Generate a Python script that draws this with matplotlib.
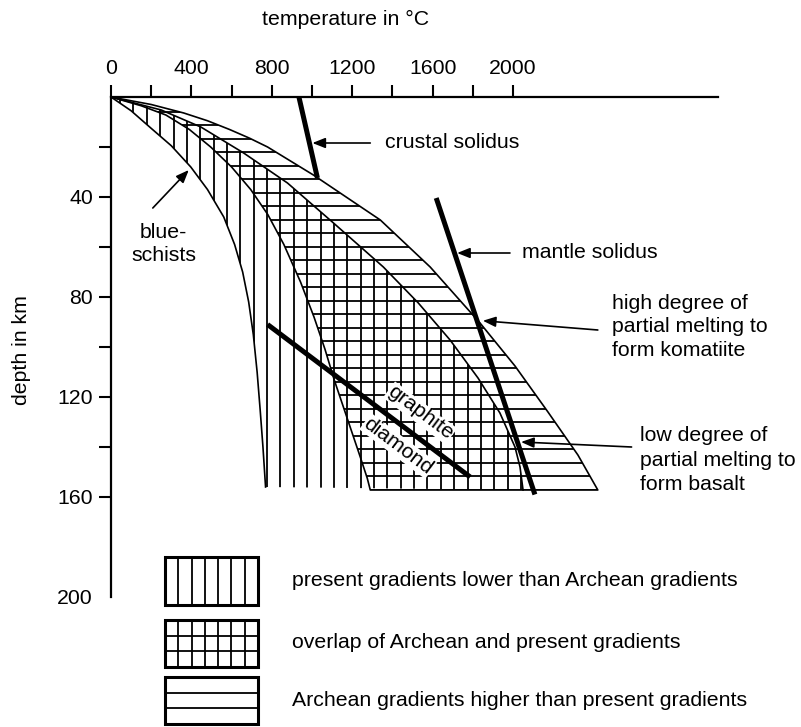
import matplotlib.pyplot as plt
import numpy as np
from matplotlib.patches import Polygon, Rectangle

plt.rcParams['font.family'] = ['Liberation Sans', 'DejaVu Sans']

# geotherms: temperature (°C) against depth (km)
present_cold_T = [0, 100, 198, 300, 397, 480, 561, 615, 655, 685, 708, 727, 742, 756, 769]
present_cold_d = [0, 5.5, 12.4, 19.5, 28, 37, 48, 59, 70, 82, 95, 110, 125, 140, 156]

present_hot_T = [0, 250, 447, 660, 878, 1107, 1355, 1529, 1687, 1826, 1935, 2010, 2035, 2050]
present_hot_d = [0, 5.2, 12, 22.4, 34.4, 50.4, 68, 82.4, 97.2, 112.4, 126.4, 140, 148, 157.2]

archean_cold_T = [0, 150, 273, 390, 496, 600, 695, 780, 860, 943, 1010, 1065, 1110,
                  1152, 1194, 1236, 1275, 1290]
archean_cold_d = [0, 3.5, 7.2, 13, 20, 28, 37, 47, 59, 74, 88, 101, 113,
                  123, 133, 143, 152.5, 157.2]

archean_hot_T = [0, 200, 362, 480, 590, 690, 779, 1007, 1340, 1588, 1836, 2010, 2174, 2323, 2422]
archean_hot_d = [0, 3.0, 6.4, 9.5, 13, 16.5, 20, 31.2, 49.2, 68, 90.4, 107.6, 126, 143.2, 157.2]

crustal_T = [935, 1027]
crustal_d = [0, 32.4]
mantle_T = [1618, 2109]
mantle_d = [40.4, 159]
gd_T = [779, 1787]
gd_d = [91, 152]

x_major = [0, 400, 800, 1200, 1600, 2000]
x_minor = [200, 600, 1000, 1400, 1800]
y_major = [40, 80, 120, 160, 200]
y_minor = [20, 60, 100, 140]

legend_labels = ['present gradients lower than Archean gradients',
                 'overlap of Archean and present gradients',
                 'Archean gradients higher than present gradients']

fs = 15.3

fig = plt.figure(figsize=(8.01, 7.27), dpi=100)
ax = fig.add_axes([111 / 801, 1 - 597 / 727, 607 / 801, 500 / 727])
ax.set_xlim(0, 3020)
ax.set_ylim(200, 0)

# regions
present_xy = np.column_stack([present_cold_T + present_hot_T[::-1],
                              present_cold_d + present_hot_d[::-1]])
archean_xy = np.column_stack([archean_cold_T + archean_hot_T[::-1],
                              archean_cold_d + archean_hot_d[::-1]])
present_patch = Polygon(present_xy, closed=True, fc='none', ec='none')
archean_patch = Polygon(archean_xy, closed=True, fc='none', ec='none')
ax.add_patch(present_patch)
ax.add_patch(archean_patch)

# hatching: vertical for present, horizontal for Archean
vl = ax.vlines(np.arange(45, 2100, 66.5), 0, 160, colors='k', lw=1.3, zorder=1)
vl.set_clip_path(present_patch)
hl = ax.hlines(np.arange(157.2, 0, -5.4), 0, 2500, colors='k', lw=1.3, zorder=1)
hl.set_clip_path(archean_patch)

ax.plot(present_cold_T, present_cold_d, color='k', lw=1.2, zorder=3)
ax.plot(present_hot_T, present_hot_d, color='k', lw=1.2, zorder=3)
ax.plot(np.append(archean_xy[:, 0], 0), np.append(archean_xy[:, 1], 0),
        color='k', lw=1.2, zorder=3)

ax.plot(crustal_T, crustal_d, color='k', lw=3.6, zorder=4, solid_capstyle='butt')
ax.plot(mantle_T, mantle_d, color='k', lw=3.6, zorder=4, solid_capstyle='butt')
ax.plot(gd_T, gd_d, color='k', lw=3.6, zorder=4, solid_capstyle='butt')

tb = dict(fc='white', ec='none', pad=0.5)
ax.text(1538, 126.4, 'graphite', rotation=-37, ha='center', va='center',
        fontsize=fs, bbox=tb, zorder=2)
ax.text(1429, 139.6, 'diamond', rotation=-37, ha='center', va='center',
        fontsize=fs, bbox=tb, zorder=2)

arrow = dict(arrowstyle='-|>,head_length=0.55,head_width=0.22', color='k',
             lw=1.2, mutation_scale=14, shrinkA=0, shrinkB=0)
ax.annotate('', xy=(1002, 18.4), xytext=(1290, 18.4), arrowprops=arrow)
ax.text(1365, 18.4, 'crustal solidus', ha='left', va='center', fontsize=fs)
ax.annotate('', xy=(1722, 62.4), xytext=(1985, 62.4), arrowprops=arrow)
ax.text(2045, 62.4, 'mantle solidus', ha='left', va='center', fontsize=fs)
ax.annotate('', xy=(1850, 89.5), xytext=(2422, 93.2), arrowprops=arrow)
ax.text(2491, 92, 'high degree of\npartial melting to\nform komatiite',
        ha='left', va='center', fontsize=fs, linespacing=1.32)
ax.annotate('', xy=(2040, 138), xytext=(2590, 140), arrowprops=arrow)
ax.text(2630, 145.2, 'low degree of\npartial melting to\nform basalt',
        ha='left', va='center', fontsize=fs, linespacing=1.35)
ax.annotate('', xy=(387, 29.2), xytext=(208, 44.4), arrowprops=arrow)
ax.text(263, 58.8, 'blue-\nschists', ha='center', va='center', fontsize=fs,
        multialignment='center', linespacing=1.3)

# axes
for s in ['right', 'bottom']:
    ax.spines[s].set_visible(False)
ax.spines['left'].set_linewidth(1.6)
ax.spines['top'].set_linewidth(1.6)
ax.xaxis.tick_top()
ax.set_xticks(x_major)
ax.set_xticks(x_minor, minor=True)
ax.set_yticks(y_major)
ax.set_yticks(y_minor, minor=True)
ax.tick_params(which='both', length=9, width=1.5, labelsize=fs)
ax.tick_params(axis='x', which='both', pad=5)
ax.tick_params(axis='y', which='both', pad=4)
ax.yaxis.get_major_ticks()[-1].tick1line.set_visible(False)

ax.text(0.387, 1.156, 'temperature in °C', transform=ax.transAxes,
        ha='center', va='center', fontsize=fs)
ax.text(-0.148, 0.494, 'depth in km', transform=ax.transAxes, rotation=90,
        ha='center', va='center', fontsize=fs)

# legend drawn in figure pixel coordinates
lax = fig.add_axes([0, 0, 1, 1])
lax.set_xlim(0, 801)
lax.set_ylim(727, 0)
lax.axis('off')
boxes = [(165, 557, 93, 48), (165, 620, 93, 47), (165, 677, 93, 47)]
text_y = [581, 643, 701]
for i, (bx, by, bw, bh) in enumerate(boxes):
    lax.add_patch(Rectangle((bx, by), bw, bh, fc='white', ec='k', lw=2.2))
    if i in (0, 1):
        for k in range(1, 7):
            lax.plot([bx + bw * k / 7] * 2, [by, by + bh], color='k', lw=1.3)
    if i in (1, 2):
        for k in range(1, 3):
            lax.plot([bx, bx + bw], [by + bh * k / 3] * 2, color='k', lw=1.3)
    lax.text(292, text_y[i], legend_labels[i], ha='left', va='center', fontsize=fs)

fig.savefig('out.png', dpi=100)
